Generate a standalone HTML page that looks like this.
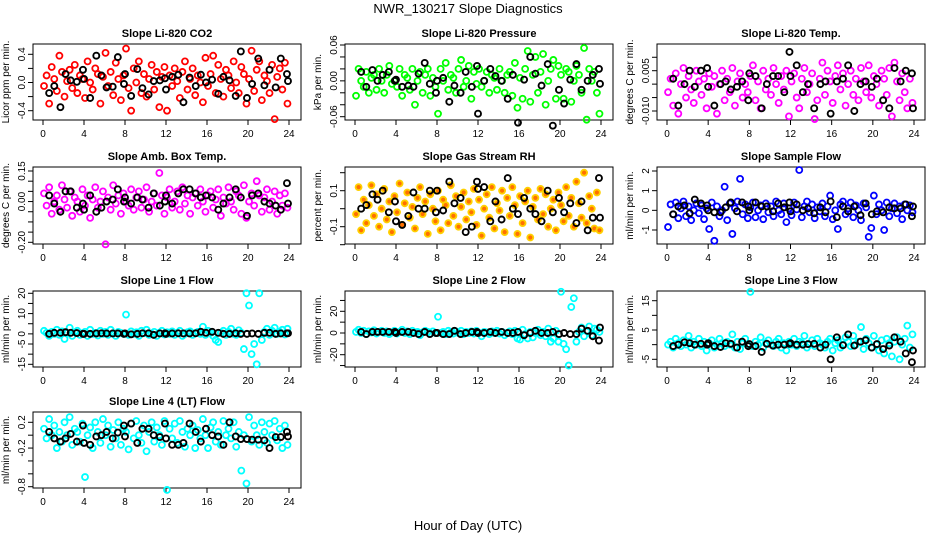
<!DOCTYPE html>
<html><head><meta charset="utf-8"><style>
html,body{margin:0;padding:0;background:#fff}
svg{display:block;font-family:"Liberation Sans",sans-serif}
</style></head><body>
<svg id="chart" width="936" height="540" viewBox="0 0 936 540" xmlns="http://www.w3.org/2000/svg">
<rect x="0" y="0" width="936" height="540" fill="#fff"/>
<text x="468" y="13" text-anchor="middle" font-size="13">NWR_130217  Slope Diagnostics</text>
<text x="468" y="530" text-anchor="middle" font-size="13">Hour of Day (UTC)</text>
</svg>
<script>
const hours=[0.1,0.35,0.6,0.85,1.1,1.35,1.6,1.85,2.1,2.35,2.6,2.85,3.1,3.35,3.6,3.85,4.1,4.35,4.6,4.85,5.1,5.35,5.6,5.85,6.1,6.35,6.6,6.85,7.1,7.35,7.6,7.85,8.1,8.35,8.6,8.85,9.1,9.35,9.6,9.85,10.1,10.35,10.6,10.85,11.1,11.35,11.6,11.85,12.1,12.35,12.6,12.85,13.1,13.35,13.6,13.85,14.1,14.35,14.6,14.85,15.1,15.35,15.6,15.85,16.1,16.35,16.6,16.85,17.1,17.35,17.6,17.85,18.1,18.35,18.6,18.85,19.1,19.35,19.6,19.85,20.1,20.35,20.6,20.85,21.1,21.35,21.6,21.85,22.1,22.35,22.6,22.85,23.1,23.35,23.6,23.85];
const blackHours=[0.6,1.1,1.7,2.2,2.7,3.3,3.9,4.0,4.6,5.2,5.7,6.2,6.8,7.3,7.9,8.0,8.6,9.2,9.7,10.3,10.8,11.4,11.9,12.0,12.6,13.2,13.7,14.3,14.9,15.4,15.9,16.5,17.1,17.6,18.2,18.8,19.3,19.9,20.4,21.0,21.6,22.1,22.7,23.2,23.8,23.9];
const xTicks=[0,4,8,12,16,20,24];

const co2Vals=[-0.05,0.1,-0.3,0.22,0.05,-0.12,0.38,0.15,-0.2,0.02,0.18,-0.08,0.25,-0.15,0.1,0.05,-0.22,0.3,0.0,-0.1,0.2,0.12,-0.3,0.08,0.42,-0.05,0.15,-0.18,0.28,0.05,-0.25,0.1,0.48,-0.08,-0.4,0.2,0.0,0.3,-0.15,0.12,-0.2,0.05,0.25,-0.1,0.15,-0.35,0.08,0.22,-0.4,0.1,-0.05,0.2,0.02,-0.22,0.15,0.3,-0.1,0.05,0.2,-0.18,0.1,0.0,-0.28,0.35,-0.05,0.12,0.38,-0.15,0.25,0.05,-0.2,0.18,0.1,-0.08,0.3,0.0,-0.15,0.22,0.12,-0.3,0.05,0.45,-0.12,0.18,0.3,-0.25,0.1,0.02,-0.15,0.25,-0.52,0.08,0.2,-0.1,0.28,-0.3];
const co2Black=[-0.15,-0.05,-0.35,0.12,0.03,0.01,0.18,0.05,-0.22,0.38,0.1,-0.07,-0.06,0.36,-0.02,0.12,-0.19,0.19,-0.08,-0.17,0.02,0.03,0.06,-0.1,0.08,0.11,-0.28,0.07,-0.05,0.11,0.0,0.04,-0.16,0.08,0.03,-0.19,0.44,-0.22,-0.02,0.34,-0.04,0.18,-0.07,0.34,0.12,0.02];
const presVals=[-0.025,0.02,0.0,-0.01,0.015,-0.02,0.005,0.01,-0.015,0.02,0.0,-0.02,0.01,0.025,-0.005,0.0,-0.01,0.02,-0.025,0.01,0.005,-0.015,0.02,-0.04,0.0,0.015,-0.02,0.01,0.02,-0.025,0.005,-0.01,-0.055,0.02,0.0,0.03,-0.015,0.01,0.005,-0.02,0.02,0.035,-0.01,0.0,0.025,-0.03,0.015,-0.005,0.02,-0.01,0.0,0.015,-0.02,0.01,0.005,-0.015,0.02,0.0,-0.02,0.01,0.015,-0.025,0.03,-0.045,0.005,-0.03,0.02,0.05,-0.035,0.01,0.04,-0.02,0.015,0.045,-0.04,0.0,0.02,0.035,-0.03,0.025,0.01,-0.03,0.02,0.015,-0.035,0.0,0.025,0.01,-0.02,0.055,-0.065,0.02,0.0,0.015,-0.02,-0.055];
const presBlack=[0.015,-0.01,0.018,0.0,0.01,0.015,0.0,0.002,-0.01,-0.008,-0.01,0.012,0.03,-0.005,-0.02,0.0,0.005,-0.035,-0.008,-0.02,0.015,-0.01,0.025,-0.055,0.0,0.02,0.008,0.0,-0.03,0.01,-0.07,0.002,0.04,0.012,-0.008,0.028,-0.075,-0.015,-0.038,0.002,0.028,-0.015,0.0,0.01,0.02,-0.005];
const tempVals=[-0.003,0.002,-0.008,0.004,-0.011,0.0,0.006,-0.005,0.003,-0.002,-0.007,0.005,0.001,-0.004,0.002,-0.009,0.004,-0.001,0.003,-0.011,0.0,0.005,-0.006,0.002,-0.003,0.006,-0.008,0.001,0.004,-0.005,0.0,-0.003,0.003,0.007,-0.006,0.001,-0.009,0.005,-0.002,0.002,-0.004,0.006,0.0,-0.007,0.003,-0.002,0.005,-0.012,0.001,0.004,-0.005,-0.009,0.002,0.006,-0.003,0.0,0.004,-0.013,-0.006,0.002,0.008,-0.004,0.005,0.001,-0.007,0.003,0.007,-0.002,0.004,-0.008,0.0,0.005,-0.004,0.002,-0.006,0.006,0.001,-0.003,0.007,-0.005,0.003,0.0,-0.008,0.005,0.002,-0.004,0.006,-0.012,0.008,0.001,-0.006,0.004,-0.003,-0.009,0.002,-0.007];
const tempBlack=[0.002,-0.008,0.0,0.005,-0.001,0.005,0.006,-0.001,-0.008,0.0,0.001,-0.002,-0.001,0.001,-0.006,0.004,0.003,-0.009,0.0,0.003,0.003,-0.003,0.012,0.003,0.007,-0.003,0.0,-0.009,0.0,0.001,-0.011,0.001,0.002,0.007,-0.01,0.0,0.001,-0.001,0.002,-0.006,-0.009,0.006,0.001,0.005,0.004,-0.009];
const ambVals=[0.04,-0.02,0.07,-0.06,0.0,0.03,-0.04,0.08,0.01,-0.03,0.05,-0.07,0.02,0.0,-0.05,0.06,-0.02,0.03,-0.08,0.01,0.07,-0.03,0.0,0.05,-0.21,0.02,-0.04,0.08,-0.01,0.03,-0.06,0.04,0.0,-0.02,0.06,-0.04,0.02,0.05,-0.03,0.01,0.07,-0.05,0.0,0.04,-0.02,0.14,0.03,-0.06,0.02,0.06,-0.03,0.0,0.05,-0.04,0.07,-0.01,0.03,-0.06,0.02,0.04,-0.02,0.06,0.0,-0.05,0.03,0.05,-0.03,0.01,0.06,-0.07,0.02,-0.01,0.07,0.0,-0.04,0.05,0.03,-0.06,0.08,-0.08,0.0,0.04,-0.02,0.1,0.03,-0.05,0.02,0.06,-0.04,0.0,0.05,-0.06,0.03,-0.02,0.04,-0.03];
const ambBlack=[0.03,-0.01,-0.05,0.05,0.05,-0.03,-0.01,-0.04,0.03,-0.05,-0.03,0.0,0.01,0.06,0.0,0.02,-0.01,0.02,0.01,-0.03,0.04,-0.02,0.0,0.03,-0.01,0.04,0.06,0.06,0.04,0.02,0.03,0.02,-0.04,-0.01,0.02,0.06,0.02,-0.07,0.03,0.04,0.0,-0.01,-0.02,-0.04,0.09,-0.01];
const rhVals=[-0.03,0.12,-0.12,0.05,-0.08,0.02,0.13,-0.04,0.08,-0.1,0.0,0.11,-0.06,0.04,-0.13,0.07,-0.02,0.14,-0.09,0.03,0.09,-0.05,0.01,-0.11,0.06,0.12,-0.03,0.04,-0.14,0.08,0.0,-0.07,0.1,-0.12,0.05,0.02,-0.08,0.13,-0.04,0.07,-0.1,0.01,0.09,-0.06,0.04,-0.02,0.11,-0.09,0.05,-0.15,0.0,0.08,-0.05,0.12,-0.11,0.03,-0.01,0.1,-0.13,0.06,-0.04,0.12,0.02,-0.14,0.07,-0.08,0.04,0.1,-0.16,0.01,0.06,-0.06,0.11,-0.03,0.08,-0.1,0.0,0.05,-0.12,0.09,0.02,-0.07,0.12,-0.04,0.06,-0.1,0.15,0.03,-0.05,0.2,-0.08,0.07,0.0,-0.11,0.09,-0.12];
const rhBlack=[0.0,0.02,0.08,0.05,0.1,-0.02,0.04,-0.07,-0.09,-0.04,0.09,0.0,0.0,0.1,-0.02,0.1,-0.01,0.15,0.03,0.06,-0.13,-0.1,0.15,0.11,0.12,-0.07,0.04,-0.06,0.17,0.0,-0.03,0.06,0.0,-0.03,-0.07,0.1,-0.02,0.06,-0.02,0.03,-0.08,0.04,-0.12,-0.05,0.17,-0.05];
const sampVals=[-0.85,0.3,-0.2,0.4,-0.4,0.1,0.45,-0.3,0.2,-0.5,0.0,0.35,-0.15,0.25,-0.45,0.1,-0.95,0.4,-1.55,0.2,-0.3,0.0,1.2,-0.5,0.35,-1.2,0.1,0.45,1.6,-0.2,0.3,-0.4,0.15,0.4,-0.35,0.0,0.25,-0.45,0.35,-0.1,0.2,-0.3,0.45,0.0,-0.2,0.35,-0.6,0.1,-0.25,0.4,0.05,2.05,-0.35,0.2,0.45,-0.1,0.3,-0.4,0.15,-0.05,0.35,-0.3,0.2,0.75,-0.45,0.0,-0.95,0.3,0.45,-0.2,0.1,0.4,-0.35,0.25,0.0,-0.5,0.35,0.15,-1.35,-0.9,0.75,-0.2,0.3,0.0,-1.0,0.4,-0.3,0.1,0.35,-0.15,0.2,-0.45,0.3,0.0,0.25,-0.1];
const sampBlack=[-0.2,0.2,0.25,-0.15,0.55,0.35,0.25,0.0,-0.1,-0.1,0.15,0.4,-0.05,0.4,0.2,0.0,0.4,0.2,0.2,-0.05,0.35,0.15,0.4,-0.05,0.3,0.0,0.1,-0.15,0.15,-0.1,0.45,-0.35,0.2,-0.05,0.2,-0.25,0.35,-0.2,-0.05,-0.1,0.15,0.1,0.1,0.3,-0.3,0.2];
const l1Vals=[1.5,0.5,-1,1,0,2,-0.5,1.2,-2.5,0.5,3,-1,0.8,1.5,-0.5,0.3,1,-1,2,0,0.5,-0.8,1.5,0,1,-0.5,2,0.2,-1,1,0.5,0,9.5,-0.5,1.2,0,0.8,-1,1.5,0.3,2,-0.5,0,1,-1,0.5,1.5,-0.3,0.8,0,1.2,-0.5,0.5,1.5,-1,0,0.8,1.2,-0.5,0.3,1,0,3.5,-0.5,1.5,0.5,-1,-3,-4,0.5,1.5,-0.5,1,2.5,0,-0.5,1.8,0.5,-7.5,20,14,-10,-5,-15,20,-3,1,2.5,-0.5,1.5,3,0,1,2,-0.3,2.5];
const l1Black=[0,0.5,0.5,0.8,0.5,0.4,0,0,0,0.2,0.3,0.2,0.2,0.2,0,0.2,-0.2,0,0.3,0.3,-0.5,0.2,0.3,0,0.2,0.3,0.2,0.2,0.3,1,0.5,1,0.5,0,0,0.3,0,0,0.2,0,0.5,0.5,0,0.2,0.3,0.3];
const l2Vals=[1,3,0,2,-1,1.5,0.5,2.5,-0.5,1,2,0,1.5,-1,0.5,2,-0.5,1,3,0,1.5,-1,2,0.5,1,-2,0.5,2,1,-0.5,1.5,0,15,0,1,-1,2,0.5,-0.5,1.5,0,2,-1,1,0,1.5,-0.5,2,0,-3,1,0.5,-1,1.5,0,2,-0.5,1,-2,0,1.5,-1,2,-5,-6,3,-1,-5,1,-4,0,3,-2,1,-3,4,-8,-5,2,-8,38,-10,-15,-30,24,32,-8,1,5,-3,2,6,-2,4,3,1];
const l2Black=[1,-1,1,1,1,1,1,0,1,1,0,-1,1,-1,0,0,-1,-1,2,-1,0,1,1,0,0,1,0,1,0,0,1,-2,0,2,0,0,1,-1,0,-1,-1,4,2,-3,-7,5];
const l3Vals=[0,1,-1,2,0.5,-0.5,1.5,0,3,-1,1,0,2,-0.5,1,-2,0.5,1.5,-1,0,2,0.5,-0.5,1,0,3.5,-1,1,-1.5,0.5,2,0,18,-0.5,1,0,2.5,-1,0.5,1.5,0,-0.5,1,2,-1,0.5,-2,1,0,2,-0.5,1,0.5,3,-1,0,1.5,-0.5,2,0.5,0,-1,1,2,-2,0.5,1.5,-1,0,2.5,1,-0.5,3,0,1,6,-1.5,2,0.5,-1,3,0,-2,1.5,-3,2,0.5,-4,1,2.5,-5,0,2,6.5,-1,3.5];
const l3Black=[-0.5,0,0.8,0.5,0,0.3,0,0.5,-0.5,-0.8,0.5,0.3,-1,1,-0.5,0.2,-0.5,-2.5,0.3,-0.3,0,0,0.3,0.5,0,0,0.2,0.3,-1,0,-5,2.5,-0.2,3.5,-0.3,1,1.5,-1,0.2,-1.5,-0.3,2.5,1,-3,-6,-2];
const l4Vals=[0.1,-0.05,0.25,0.0,0.15,-0.2,0.05,-0.1,0.2,0.0,0.28,-0.15,0.1,0.05,-0.1,0.18,-0.65,0.0,0.12,-0.2,0.2,0.05,-0.12,0.25,0.0,0.15,-0.18,0.08,-0.05,0.2,-0.15,0.1,0.05,-0.22,0.18,-0.05,0.22,0.0,-0.12,0.15,-0.25,0.05,0.2,-0.1,0.12,0.0,-0.15,0.22,-0.85,0.1,-0.05,0.18,-0.12,0.22,0.05,-0.18,0.1,0.0,0.15,-0.2,0.08,-0.05,0.25,0.0,-0.2,0.12,0.2,-0.1,0.05,-0.15,0.22,0.0,0.1,-0.05,0.2,-0.18,0.05,-0.55,0.0,-0.75,0.28,-0.1,0.15,0.0,-0.15,0.2,0.05,-0.12,0.18,0.0,0.22,-0.08,0.1,-0.2,0.15,-0.15];
const l4Black=[0.05,-0.05,-0.1,-0.05,0.02,-0.1,0.15,-0.12,-0.15,-0.02,0.0,0.05,-0.05,0.04,0.15,-0.02,0.18,-0.12,0.1,0.1,0.0,-0.03,0.18,-0.05,-0.15,-0.15,-0.12,0.18,0.05,-0.1,0.1,0.0,-0.02,-0.15,0.2,-0.02,-0.06,-0.06,-0.07,-0.07,-0.08,-0.2,-0.03,-0.03,0.05,-0.02];

const co2Ticks=[-0.4,-0.2,0,0.2,0.4], co2Labels=["-0.4","0.0","0.4"];
const presTicks=[-0.06,-0.04,-0.02,0,0.02,0.04,0.06], presLabels=["-0.06","0.00","0.06"];
const tempTicks=[-0.01,-0.005,0,0.005,0.01], tempLabels=["-0.010","0.005"];
const ambTicks=[-0.2,-0.15,-0.1,-0.05,0,0.05,0.1,0.15], ambLabels=["-0.20","0.00","0.15"];
const rhTicks=[-0.2,-0.1,0,0.1,0.2], rhLabels=["-0.1","0.1"];
const sampTicks=[-1,0,1,2], sampLabels=["-1","0","1","2"];
const l1Ticks=[-15,-10,-5,0,5,10,15,20], l1Labels=["-15","-5","0","10","20"];
const l2Ticks=[-30,-20,-10,0,10,20,30], l2Labels=["-20","0","20"];
const l3Ticks=[-5,0,5,10,15], l3Labels=["-5","5","15"];
const l4Ticks=[-0.8,-0.6,-0.4,-0.2,0,0.2], l4Labels=["-0.8","-0.2","0.2"];

const NS="http://www.w3.org/2000/svg";
const svg=document.getElementById('chart');
function mk(tag,attrs,parent){const e=document.createElementNS(NS,tag);for(const k in attrs)e.setAttribute(k,attrs[k]);(parent||svg).appendChild(e);return e;}
const cols=[{bx:33,bw:268,x0:43,x24:289},{bx:345,bw:268,x0:355,x24:601},{bx:657,bw:268,x0:667,x24:914}];
const rows=[{by:44,bh:76},{by:167,bh:77},{by:291,bh:76},{by:412,bh:76}];
const panels=[
 {id:'co2',title:'Slope Li-820 CO2',yl:'Licor ppm per min.',c:0,r:0,vals:co2Vals,blk:co2Black,ticks:co2Ticks,labels:co2Labels,ref:[0.4,54.3,-0.4,110.7],stroke:'#ff0000',fill:'none'},
 {id:'pressure',title:'Slope Li-820 Pressure',yl:'kPa per min.',c:1,r:0,vals:presVals,blk:presBlack,ticks:presTicks,labels:presLabels,ref:[0.06,45,-0.06,116.7],stroke:'#00ff00',fill:'none'},
 {id:'temp',title:'Slope Li-820 Temp.',yl:'degrees C per min.',c:2,r:0,vals:tempVals,blk:tempBlack,ticks:tempTicks,labels:tempLabels,ref:[0.005,70.7,-0.01,111],stroke:'#ff00ff',fill:'none'},
 {id:'amb-temp',title:'Slope Amb. Box Temp.',yl:'degrees C per min.',c:0,r:1,vals:ambVals,blk:ambBlack,ticks:ambTicks,labels:ambLabels,ref:[0.15,171,-0.2,242.3],stroke:'#ff00ff',fill:'none'},
 {id:'rh',title:'Slope Gas Stream RH',yl:'percent per min.',c:1,r:1,vals:rhVals,blk:rhBlack,ticks:rhTicks,labels:rhLabels,ref:[0.1,190.7,-0.1,226.7],stroke:'#ffd000',fill:'#ff7000'},
 {id:'sample-flow',title:'Slope Sample Flow',yl:'ml/min per min.',c:2,r:1,vals:sampVals,blk:sampBlack,ticks:sampTicks,labels:sampLabels,ref:[2,171,-1,230],stroke:'#0000ff',fill:'none'},
 {id:'line1',title:'Slope Line 1 Flow',yl:'ml/min per min.',c:0,r:2,vals:l1Vals,blk:l1Black,ticks:l1Ticks,labels:l1Labels,ref:[20,293.3,-15,364.3],stroke:'#00ffff',fill:'none'},
 {id:'line2',title:'Slope Line 2 Flow',yl:'ml/min per min.',c:1,r:2,vals:l2Vals,blk:l2Black,ticks:l2Ticks,labels:l2Labels,ref:[20,311.3,-20,354.7],stroke:'#00ffff',fill:'none'},
 {id:'line3',title:'Slope Line 3 Flow',yl:'ml/min per min.',c:2,r:2,vals:l3Vals,blk:l3Black,ticks:l3Ticks,labels:l3Labels,ref:[15,300.7,-5,359.3],stroke:'#00ffff',fill:'none'},
 {id:'line4',title:'Slope Line 4 (LT) Flow',yl:'ml/min per min.',c:0,r:3,vals:l4Vals,blk:l4Black,ticks:l4Ticks,labels:l4Labels,ref:[0.2,422.3,-0.8,486.7],stroke:'#00ffff',fill:'none'}
];
panels.forEach(p=>{
 const C=cols[p.c],R=rows[p.r];
 const xs=h=>C.x0+(h/24)*(C.x24-C.x0);
 const ys=v=>p.ref[1]+(v-p.ref[0])*(p.ref[3]-p.ref[1])/(p.ref[2]-p.ref[0]);
 const g=mk('g',{});
 
 
 const t=mk('text',{x:C.bx+C.bw/2,y:R.by-7,'text-anchor':'middle','font-size':'11','font-weight':'bold'},g);
 t.textContent=p.title;
 
 
 const b=mk('rect',{x:C.bx,y:R.by,width:C.bw,height:R.bh,fill:'none',stroke:'#000','stroke-width':'1'},g);
 
 
 const xa=mk('g',{},g);
 
 
 const yb=R.by+R.bh;
 xTicks.forEach(v=>{
  mk('line',{x1:xs(v),x2:xs(v),y1:yb,y2:yb+5,stroke:'#000'},xa);
  const l=mk('text',{x:xs(v),y:yb+17,'text-anchor':'middle','font-size':'10'},xa);
  l.textContent=v;
  
  
 });
 const ya=mk('g',{},g);
 
 
 p.ticks.forEach(v=>{mk('line',{x1:C.bx-5,x2:C.bx,y1:ys(v),y2:ys(v),stroke:'#000'},ya);});
 p.labels.forEach(s=>{
  const v=parseFloat(s),yy=ys(v),xx=C.bx-8;
  const l=mk('text',{x:xx,y:yy,'text-anchor':'middle','font-size':'10',transform:`rotate(-90 ${xx} ${yy})`},ya);
  l.textContent=s;
  
  
 });
 const cy=R.by+R.bh/2, tx=C.bx-24;
 const yt=mk('text',{x:tx,y:cy,'text-anchor':'middle','font-size':'10',transform:`rotate(-90 ${tx} ${cy})`},g);
 yt.textContent=p.yl;
 
 
 const sc=mk('g',{},g);
 
 
 const n=Math.min(hours.length,p.vals.length);
 for(let i=0;i<n;i++){
  const c=mk('circle',{cx:xs(hours[i]),cy:ys(p.vals[i]),r:3,fill:p.fill,stroke:p.stroke,'stroke-width':'1.8'},sc);
  
  
 }
 const bk=mk('g',{},g);
 
 
 const m=Math.min(blackHours.length,p.blk.length);
 for(let i=0;i<m;i++){
  const c=mk('circle',{cx:xs(blackHours[i]),cy:ys(p.blk[i]),r:3,fill:'none',stroke:'#000','stroke-width':'1.9'},bk);
  
  
 }
});
</script>
</body></html>
